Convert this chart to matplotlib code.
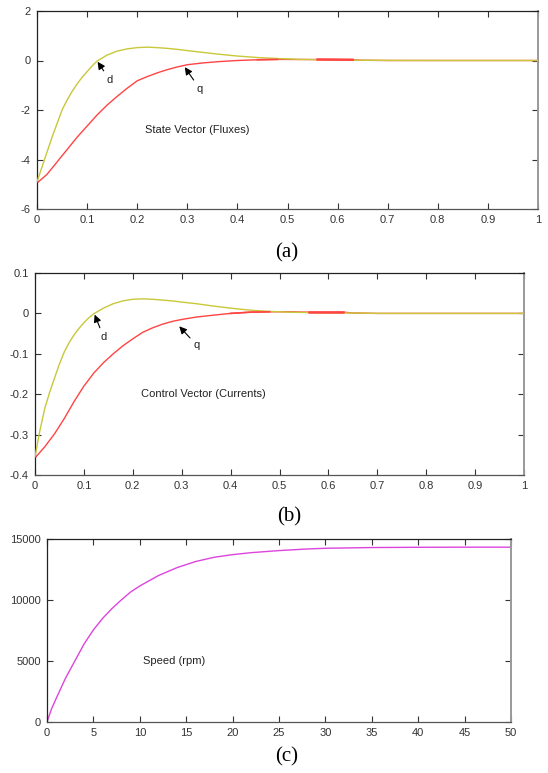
import matplotlib
matplotlib.use("Agg")
import matplotlib.pyplot as plt
import numpy as np

# ---------------- data ----------------
# (a) State vector (fluxes)
t_a = [0, 0.01, 0.02, 0.03, 0.04, 0.05, 0.06, 0.07, 0.08, 0.09, 0.10, 0.11, 0.12,
       0.14, 0.16, 0.18, 0.20, 0.22, 0.24, 0.26, 0.28, 0.30, 0.33, 0.36, 0.40,
       0.44, 0.48, 0.52, 0.56, 0.60, 0.65, 0.70, 0.80, 0.90, 1.00]
flux_d = [-4.9, -4.3, -3.7, -3.1, -2.55, -2.0, -1.6, -1.25, -0.95, -0.68, -0.45, -0.22, -0.02,
          0.22, 0.38, 0.47, 0.52, 0.54, 0.52, 0.49, 0.45, 0.40, 0.33, 0.26, 0.18,
          0.12, 0.08, 0.05, 0.03, 0.02, 0.01, 0.005, 0.0, 0.0, 0.0]
t_aq = [0, 0.02, 0.04, 0.06, 0.08, 0.10, 0.12, 0.14, 0.16, 0.18, 0.20, 0.22, 0.24,
        0.26, 0.28, 0.30, 0.33, 0.36, 0.40, 0.44, 0.48, 0.52, 0.56, 0.60, 0.63,
        0.65, 0.70, 0.80, 0.90, 1.00]
flux_q = [-4.95, -4.6, -4.1, -3.6, -3.1, -2.65, -2.2, -1.8, -1.45, -1.12, -0.82, -0.65, -0.5,
          -0.37, -0.26, -0.17, -0.1, -0.05, 0.0, 0.03, 0.045, 0.04, 0.04, 0.035, 0.03,
          0.01, 0.0, 0.0, 0.0, 0.0]

# (b) Control vector (currents)
t_b = [0, 0.01, 0.02, 0.03, 0.04, 0.05, 0.06, 0.07, 0.08, 0.09, 0.10, 0.11, 0.12,
       0.14, 0.16, 0.18, 0.20, 0.22, 0.24, 0.26, 0.28, 0.30, 0.33, 0.36, 0.40,
       0.44, 0.48, 0.52, 0.56, 0.60, 0.65, 0.70, 0.80, 0.90, 1.00]
curr_d = [-0.355, -0.29, -0.235, -0.195, -0.16, -0.125, -0.095, -0.072, -0.053, -0.037, -0.023, -0.011, -0.001,
          0.013, 0.024, 0.031, 0.035, 0.036, 0.035, 0.033, 0.031, 0.028, 0.024, 0.019, 0.013,
          0.008, 0.005, 0.003, 0.002, 0.0015, 0.001, 0.0, 0.0, 0.0, 0.0]
t_bq = [0, 0.02, 0.04, 0.06, 0.08, 0.10, 0.12, 0.14, 0.16, 0.18, 0.20, 0.22, 0.24,
        0.26, 0.28, 0.30, 0.33, 0.36, 0.40, 0.44, 0.48, 0.52, 0.56, 0.60, 0.63,
        0.65, 0.70, 0.80, 0.90, 1.00]
curr_q = [-0.358, -0.33, -0.298, -0.26, -0.218, -0.18, -0.148, -0.122, -0.1, -0.08, -0.063, -0.047, -0.036,
          -0.027, -0.02, -0.015, -0.009, -0.005, 0.0, 0.003, 0.004, 0.004, 0.003, 0.003, 0.003,
          0.001, 0.0, 0.0, 0.0, 0.0]

# (c) Speed (rpm)
t_c = [0, 0.5, 1, 2, 3, 4, 5, 6, 7, 8, 9, 10, 12, 14, 16, 18, 20, 22, 25, 28, 30, 35, 40, 45, 50]
speed = [0, 1100, 1950, 3600, 5000, 6400, 7550, 8500, 9300, 10000, 10650, 11150, 12000,
         12650, 13150, 13500, 13720, 13880, 14050, 14180, 14240, 14300, 14320, 14330, 14330]

xticks_ab = [0, 0.1, 0.2, 0.3, 0.4, 0.5, 0.6, 0.7, 0.8, 0.9, 1]
xticklabels_ab = ["0", "0.1", "0.2", "0.3", "0.4", "0.5", "0.6", "0.7", "0.8", "0.9", "1"]
yticks_a = [-6, -4, -2, 0, 2]
yticklabels_a = ["-6", "-4", "-2", "0", "2"]
yticks_b = [-0.4, -0.3, -0.2, -0.1, 0, 0.1]
yticklabels_b = ["-0.4", "-0.3", "-0.2", "-0.1", "0", "0.1"]
xticks_c = [0, 5, 10, 15, 20, 25, 30, 35, 40, 45, 50]
yticks_c = [0, 5000, 10000, 15000]

YELLOW = "#c8c83a"
RED = "#ff4444"
MAGENTA = "#dd44dd"

plt.rcParams["font.family"] = ["Liberation Sans", "DejaVu Sans"]
plt.rcParams["axes.unicode_minus"] = False

W, H = 548, 773
fig = plt.figure(figsize=(W / 100, H / 100), dpi=100)
FS = 8


def make_axes(l, r, t, b):
    return fig.add_axes([l / W, 1 - b / H, (r - l) / W, (b - t) / H])


def style(ax):
    ax.tick_params(direction="in", length=4, width=0.8, top=True, right=True,
                   labelsize=FS, labelcolor="#333333", colors="#333333", pad=4.5)
    ax.spines["left"].set_color("#222222")
    ax.spines["top"].set_color("#222222")
    ax.spines["bottom"].set_color("#555555")
    ax.spines["right"].set_color("#999999")
    for s in ax.spines.values():
        s.set_linewidth(0.9)
    ax.spines["right"].set_linewidth(1.4)


def arrow(ax, label, tip, txt):
    ax.annotate(label, xy=tip, xytext=txt, fontsize=FS, color="#222222",
                ha="center", va="center",
                arrowprops=dict(arrowstyle="-|>", color="black", lw=0.8,
                                mutation_scale=11, shrinkA=1, shrinkB=0))


# ---- (a)
ax1 = make_axes(37, 538, 11, 209)
ax1.plot(t_aq, flux_q, color=RED, lw=1.0, zorder=2)
ax1.plot(t_a, flux_d, color=YELLOW, lw=1.0, zorder=3)
ta_q = np.array(t_aq); fq = np.array(flux_q)
m = (ta_q >= 0.44) & (ta_q <= 0.48)
ax1.plot(ta_q[m], fq[m], color=RED, lw=1.2, zorder=4)
m = (ta_q >= 0.56) & (ta_q <= 0.63)
ax1.plot(ta_q[m], fq[m], color=RED, lw=1.8, zorder=4)
ax1.set_xlim(0, 1)
ax1.set_ylim(-6, 2)
ax1.set_xticks(xticks_ab, xticklabels_ab)
ax1.set_yticks(yticks_a, yticklabels_a)
style(ax1)
arrow(ax1, "d", (0.121, -0.05), (0.145, -0.78))
arrow(ax1, "q", (0.295, -0.27), (0.325, -1.15))
ax1.text(0.215, -2.8, "State Vector (Fluxes)", fontsize=FS, color="#222222",
         ha="left", va="center")

# ---- (b)
ax2 = make_axes(35, 524, 273, 475)
ax2.plot(t_bq, curr_q, color=RED, lw=1.0, zorder=2)
ax2.plot(t_b, curr_d, color=YELLOW, lw=1.0, zorder=3)
tb_q = np.array(t_bq); cq = np.array(curr_q)
m = (tb_q >= 0.40) & (tb_q <= 0.48)
ax2.plot(tb_q[m], cq[m], color=RED, lw=1.2, zorder=4)
m = (tb_q >= 0.56) & (tb_q <= 0.63)
ax2.plot(tb_q[m], cq[m], color=RED, lw=1.8, zorder=4)
ax2.set_xlim(0, 1)
ax2.set_ylim(-0.4, 0.1)
ax2.set_xticks(xticks_ab, xticklabels_ab)
ax2.set_yticks(yticks_b, yticklabels_b)
style(ax2)
arrow(ax2, "d", (0.122, -0.003), (0.140, -0.058))
arrow(ax2, "q", (0.295, -0.032), (0.331, -0.079))
ax2.text(0.216, -0.2, "Control Vector (Currents)", fontsize=FS, color="#222222",
         ha="left", va="center")

# ---- (c)
ax3 = make_axes(47, 511, 539, 722)
ax3.plot(t_c, speed, color=MAGENTA, lw=1.0)
ax3.set_xlim(0, 50)
ax3.set_ylim(0, 15000)
ax3.set_xticks(xticks_c)
ax3.set_yticks(yticks_c)
style(ax3)
ax3.text(10.3, 5000, "Speed (rpm)", fontsize=FS, color="#222222",
         ha="left", va="center")

# panel labels
for lab, (x, y) in zip(["(a)", "(b)", "(c)"], [(287, 253), (289, 517), (287, 757)]):
    fig.text(x / W, 1 - y / H, lab, fontsize=15, family=["Liberation Serif"],
             ha="center", va="center", color="black")

fig.savefig("out.png", dpi=100)
